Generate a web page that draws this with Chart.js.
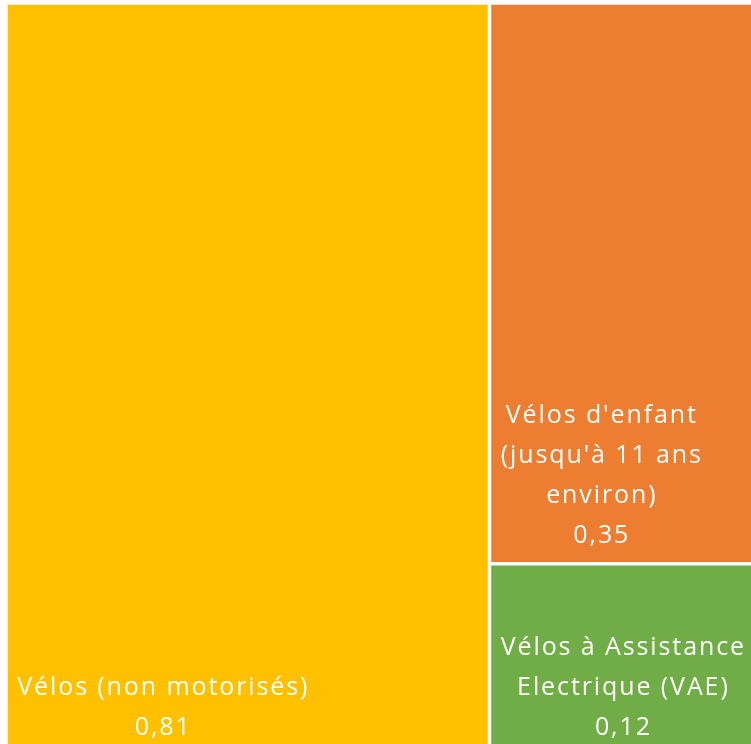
<!DOCTYPE html>
<html>
<head>
<meta charset="utf-8">
<script src="https://cdn.jsdelivr.net/npm/chart.js@4.4.0/dist/chart.umd.min.js"></script>
<style>
  html, body { margin: 0; padding: 0; background: #fff; overflow: hidden; }
  #wrap { position: absolute; left: 0; top: 0; width: 770px; height: 756px; }
</style>
</head>
<body>
<div id="wrap"><canvas id="treemap"></canvas></div>
<script>
// ====== data ======
const categories = ['Vélos (non motorisés)', "Vélos d'enfant (jusqu'à 11 ans environ)", 'Vélos à Assistance Electrique (VAE)'];
const values = [0.81, 0.35, 0.12];
const valueLabels = ['0,81', '0,35', '0,12'];
const colors = ['#FFC000', '#ED7D31', '#70AD47'];

const total = values.reduce((a, b) => a + b, 0);
const restTotal = values.slice(1).reduce((a, b) => a + b, 0);

// treemap layout in data units: first item gets its own column, the rest are stacked
function layout() {
  const boxes = [{ x0: 0, x1: values[0], y0: 0, y1: 1 }];
  let y = 0;
  for (let i = 1; i < values.length; i++) {
    const h = values[i] / restTotal;
    boxes.push({ x0: values[0], x1: total, y0: y, y1: y + h });
    y += h;
  }
  return boxes;
}

function wrapText(ctx, text, maxW) {
  const words = text.split(' ');
  const lines = [];
  let cur = '';
  words.forEach(w => {
    const test = cur ? cur + ' ' + w : w;
    if (cur && ctx.measureText(test).width > maxW) {
      lines.push(cur);
      cur = w;
    } else {
      cur = test;
    }
  });
  if (cur) lines.push(cur);
  return lines;
}

// draws the rectangles through the x / y scales
const treemapPlugin = {
  id: 'treemap',
  afterDatasetsDraw(chart) {
    const ctx = chart.ctx;
    const xs = chart.scales.x;
    const ys = chart.scales.y;
    const gap = 1.75;
    ctx.save();
    layout().forEach((b, i) => {
      const left = xs.getPixelForValue(b.x0) + gap;
      const right = xs.getPixelForValue(b.x1) - gap;
      const top = ys.getPixelForValue(b.y0) + gap;
      const bottom = ys.getPixelForValue(b.y1) - gap;
      ctx.fillStyle = colors[i];
      ctx.fillRect(left, top, right - left, bottom - top);

      // label block, bottom left, lines centered inside the block
      ctx.font = '25px "Open Sans", sans-serif';
      ctx.letterSpacing = '1.9px';
      ctx.fillStyle = '#ffffff';
      ctx.textBaseline = 'middle';
      ctx.textAlign = 'center';
      const pad = 9.5;
      const lines = wrapText(ctx, categories[i], right - left - 2 * pad);
      lines.push(valueLabels[i]);
      const blockW = Math.max(...lines.map(l => ctx.measureText(l).width));
      const cx = left + pad + blockW / 2;
      const lineH = 40;
      let yy = bottom - 26 - (lines.length - 1) * lineH;
      lines.forEach(l => {
        ctx.fillText(l, cx, yy);
        yy += lineH;
      });
    });
    ctx.restore();
  }
};

new Chart(document.getElementById('treemap'), {
  type: 'scatter',
  data: {
    datasets: [{ data: [], pointRadius: 0 }]
  },
  options: {
    responsive: true,
    maintainAspectRatio: false,
    animation: false,
    layout: { padding: { left: 6, top: 3, right: 0, bottom: 0 } },
    scales: {
      x: { type: 'linear', min: 0, max: total, display: false },
      y: { type: 'linear', min: 0, max: 1, reverse: true, display: false }
    },
    plugins: {
      legend: { display: false },
      tooltip: { enabled: false }
    }
  },
  plugins: [treemapPlugin]
});
</script>
</body>
</html>
